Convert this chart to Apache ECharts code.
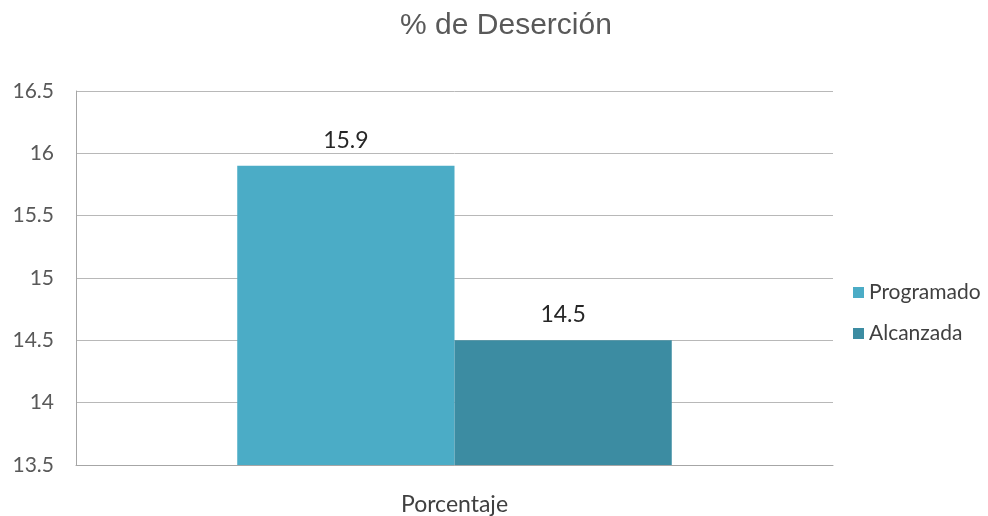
<!DOCTYPE html>
<html>
<head>
<meta charset="utf-8">
<title>% de Deserción</title>
<script src="https://cdn.jsdelivr.net/npm/echarts@6/dist/echarts.min.js"></script>
<style>
  html, body { margin: 0; padding: 0; background: #fff; }
  #chart { width: 988px; height: 516px; }
</style>
</head>
<body>
<div id="chart"></div>
<script>
const categories = ["Porcentaje"];
const programado = [15.9];
const alcanzada = [14.5];
const seriesNames = ["Programado", "Alcanzada"];

const myChart = echarts.init(document.getElementById("chart"));
const option = {
  backgroundColor: "#fff",
  title: {
    text: "% de Deserción",
    left: 501,
    textAlign: "center",
    top: 6,
    textStyle: {
      fontFamily: "Liberation Sans",
      fontSize: 30,
      fontWeight: "normal",
      color: "#595959",
    },
  },
  legend: {
    orient: "vertical",
    left: 848,
    top: 277,
    itemWidth: 11,
    itemHeight: 11,
    itemGap: 20,
    icon: "rect",
    data: seriesNames,
    textStyle: {
      fontFamily: "Lato",
      fontSize: 21,
      color: "#404040",
    },
  },
  grid: {
    left: 76,
    right: 155,
    top: 91,
    bottom: 51,
  },
  xAxis: {
    type: "category",
    data: categories,
    axisLine: { lineStyle: { color: "#a6a6a6" } },
    axisTick: { show: false },
    axisLabel: {
      margin: 28,
      fontFamily: "Lato",
      fontSize: 23,
      color: "#404040",
    },
  },
  yAxis: {
    type: "value",
    min: 13.5,
    max: 16.5,
    interval: 0.5,
    axisLine: { show: true, lineStyle: { color: "#a6a6a6" } },
    axisTick: { show: false },
    splitLine: { lineStyle: { color: "#b8b8b8" } },
    axisLabel: {
      margin: 22,
      fontFamily: "Lato",
      fontSize: 21,
      color: "#595959",
    },
  },
  series: [
    {
      name: seriesNames[0],
      type: "bar",
      data: programado,
      barGap: "0%",
      barCategoryGap: "42.6%",
      itemStyle: { color: "#4BACC6" },
      label: {
        show: true,
        position: "top",
        distance: 14,
        fontFamily: "Lato",
        fontSize: 23,
        color: "#262626",
      },
    },
    {
      name: seriesNames[1],
      type: "bar",
      data: alcanzada,
      itemStyle: { color: "#3C8CA2" },
      label: {
        show: true,
        position: "top",
        distance: 14,
        fontFamily: "Lato",
        fontSize: 23,
        color: "#262626",
      },
    },
  ],
};
myChart.setOption(option);
</script>
</body>
</html>
